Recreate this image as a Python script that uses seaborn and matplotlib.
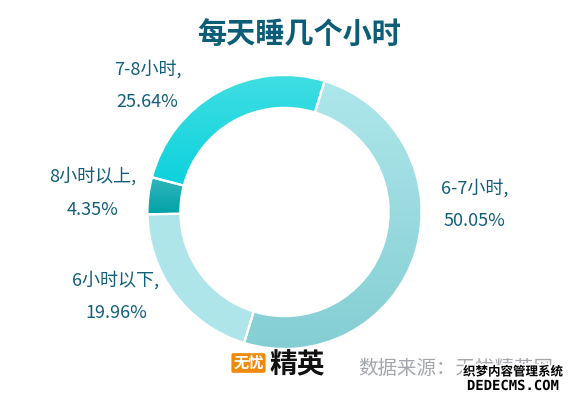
import matplotlib
matplotlib.use("Agg")
import matplotlib.pyplot as plt
import matplotlib.patheffects as pe
import numpy as np
import seaborn as sns

# 数据
labels = ["6-7小时", "6小时以下", "8小时以上", "7-8小时"]
shares = [50.05, 19.96, 4.35, 25.64]

# 每块的上下渐变色
grad_top = ["#aee7eb", "#aee5ea", "#33b7bd", "#40dee3"]
grad_bottom = ["#84ced3", "#aee5ea", "#00a2a7", "#00cfdb"]

# 标签位置 (以圆环半径为单位)
label_pos = [(1.39, 0.175, -0.066), (-1.23, -0.50, -0.74),
             (-1.40, 0.26, 0.015), (-1.00, 1.04, 0.80)]

title_color = "#0b5d78"
label_color = "#125f7b"

sns.set_style("white")
plt.rcParams["font.family"] = ["Noto Sans CJK SC", "DejaVu Sans"]

W, H = 573, 399
fig = plt.figure(figsize=(W / 100, H / 100), dpi=100)

cx, cy, r = 284.5, 212, 137
ax = fig.add_axes([(cx - r) / W, (H - cy - r) / H, 2 * r / W, 2 * r / H])
ax.set_xlim(-1, 1)
ax.set_ylim(-1, 1)
ax.set_aspect("equal")
ax.axis("off")

wedges, _ = ax.pie(shares, startangle=73, counterclock=False, radius=1,
                   colors=grad_top,
                   wedgeprops=dict(width=0.24, edgecolor="white", linewidth=1.6))

# 用裁剪的渐变图填充每一块
for w, top, bot in zip(wedges, grad_top, grad_bottom):
    verts = w.get_path().vertices
    ymin, ymax = verts[:, 1].min(), verts[:, 1].max()
    cmap = sns.blend_palette([bot, top], n_colors=256, as_cmap=True)
    grad = np.linspace(0, 1, 256).reshape(-1, 1)
    im = ax.imshow(grad, cmap=cmap, origin="lower", aspect="auto",
                   extent=[-1, 1, ymin, ymax], zorder=1.5)
    im.set_clip_path(w)
    w.set_facecolor("none")
    w.set_zorder(2)

ax.set_xlim(-1, 1)
ax.set_ylim(-1, 1)

for lab, val, (lx, y1, y2) in zip(labels, shares, label_pos):
    kw = dict(ha="center", va="center", color=label_color, fontsize=13,
              transform=ax.transData, clip_on=False)
    ax.text(lx, y1, f"{lab},", **kw)
    ax.text(lx, y2, f"{val:.2f}%", **kw)

fig.text(299 / W, 1 - 35 / H, "每天睡几个小时", ha="center", va="center",
         fontsize=21, fontweight="bold", color=title_color)

# 底部来源
fig.text(248.5 / W, 1 - 363 / H, "无忧", ha="center", va="center", fontsize=11,
         fontweight="bold", color="white",
         bbox=dict(boxstyle="round,pad=0.12", fc="#f08a0c", ec="none"))
fig.text(297 / W, 1 - 365 / H, "精英", ha="center", va="center", fontsize=20,
         fontweight="heavy", color="#111111")
fig.text(358 / W, 1 - 368 / H, "数据来源：无忧精英网", ha="left", va="center",
         fontsize=14, color="#a3a6aa")

stroke = [pe.withStroke(linewidth=2.5, foreground="white")]
fig.text(513 / W, 1 - 372 / H, "织梦内容管理系统", ha="center", va="center",
         fontsize=9, fontweight="bold", color="black", path_effects=stroke)
fig.text(513 / W, 1 - 386 / H, "DEDECMS.COM", ha="center", va="center",
         fontsize=10, fontweight="bold", color="black", family="DejaVu Sans Mono",
         path_effects=stroke)

fig.savefig("out.png", dpi=100)
